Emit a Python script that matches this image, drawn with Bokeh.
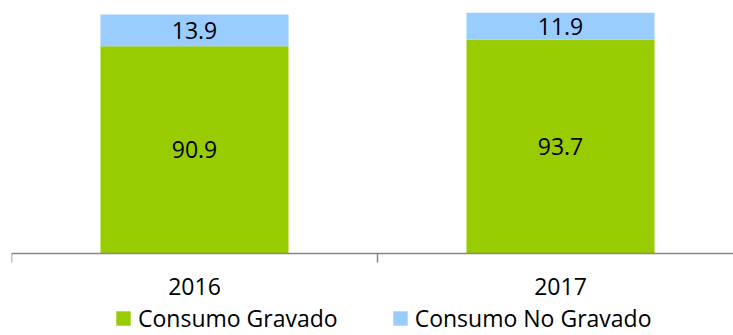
from bokeh.plotting import figure
from bokeh.models import ColumnDataSource, Range1d, FixedTicker, Legend, LegendItem, LabelSet
from bokeh.embed import file_html
from bokeh.resources import INLINE
from bokeh.core.properties import value

years = ["2016", "2017"]
gravado = [90.9, 93.7]
no_gravado = [13.9, 11.9]
series_names = ["Consumo Gravado", "Consumo No Gravado"]
colors = ["#99CC00", "#99CCFF"]

FONT = "Open Sans"
xpos = [i + 0.5 for i in range(len(years))]

src = ColumnDataSource(dict(
    x=xpos, g=gravado, n=no_gravado,
    g_mid=[v / 2 for v in gravado],
    n_mid=[a + b / 2 for a, b in zip(gravado, no_gravado)],
    g_txt=[f"{v:.1f}" for v in gravado],
    n_txt=[f"{v:.1f}" for v in no_gravado],
))

SCALE = 2.281  # px per unit
p = figure(width=733, height=335, output_backend="svg", toolbar_location=None,
           x_range=Range1d(0, 722 / 366), y_range=Range1d(-82 / SCALE, 253 / SCALE),
           y_axis_location=None,
           min_border_left=11, min_border_right=0, min_border_top=0, min_border_bottom=0)
p.grid.visible = False
p.outline_line_color = None
p.background_fill_color = "white"
p.border_fill_color = "white"

rs = p.vbar_stack(["g", "n"], x="x", width=0.5137, source=src, color=colors, line_color=None)

for col, ycol in (("g_txt", "g_mid"), ("n_txt", "n_mid")):
    p.add_layout(LabelSet(x="x", y=ycol, text=col, source=src, text_align="center",
                          text_baseline="middle", text_font=value(FONT),
                          text_font_size="23px", text_color="#000000"))

ax = p.xaxis[0]
ax.fixed_location = 0
ax.ticker = FixedTicker(ticks=xpos, minor_ticks=[0, 1, 2])
ax.major_label_overrides = {x: y for x, y in zip(xpos, years)}
ax.major_tick_line_color = None
ax.major_tick_out = 0
ax.major_tick_in = 0
ax.minor_tick_out = 9
ax.minor_tick_in = 0
ax.minor_tick_line_color = "#868686"
ax.minor_tick_line_width = 1.5
ax.axis_line_color = "#868686"
ax.axis_line_width = 1.5
ax.major_label_standoff = 15
ax.major_label_text_font = FONT
ax.major_label_text_font_size = "23px"
ax.major_label_text_color = "#000000"

legend = Legend(items=[LegendItem(label=n, renderers=[r]) for n, r in zip(series_names, rs)],
                orientation="horizontal", location=(103, 1),
                label_text_font=FONT, label_text_font_size="23px", label_text_color="#000000",
                glyph_width=18, glyph_height=18, label_standoff=6, spacing=53,
                border_line_color=None, background_fill_alpha=0, padding=0, margin=0)
p.add_layout(legend)

open("out.html", "w").write(file_html(p, INLINE))
